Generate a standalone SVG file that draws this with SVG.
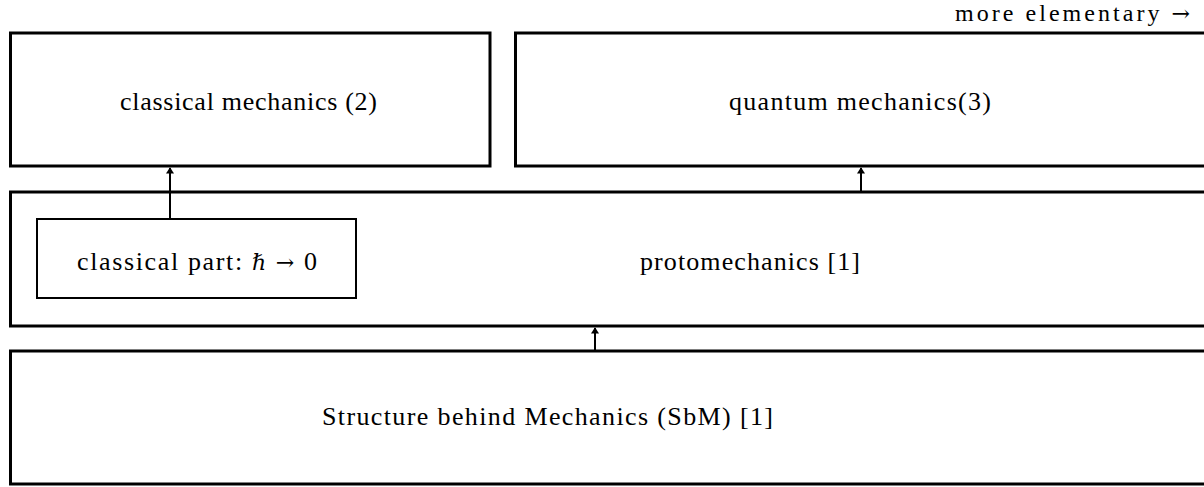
<svg xmlns="http://www.w3.org/2000/svg" width="1204" height="487" viewBox="0 0 1204 487">
<style>
.box{fill:none;stroke:#000;stroke-width:3}
.inner{fill:none;stroke:#000;stroke-width:2}
.t{font-family:"Liberation Serif","Times New Roman",serif;font-size:26px;fill:#000;text-anchor:middle}
.m{font-family:"DejaVu Serif",serif;font-size:22px}
.c{stroke:#000;stroke-width:2;fill:none;marker-end:url(#ah)}
</style>
<defs>
<marker id="ah" viewBox="0 0 8 10" refX="7" refY="5" markerWidth="4.5" markerHeight="4" orient="auto" markerUnits="strokeWidth">
<path d="M0,0 L8,5 L0,10 Z" fill="#000"/>
</marker>
</defs>
<rect width="1204" height="487" fill="#fff"/>
<text class="t" x="1190" y="21" style="text-anchor:end;font-size:24px" textLength="235" lengthAdjust="spacing">more elementary <tspan class="m">→</tspan></text>
<g id="classical">
<rect class="box" x="10.5" y="33" width="479.5" height="133"/>
<text class="t" x="248.5" y="110" textLength="257" lengthAdjust="spacing">classical mechanics (2)</text>
</g>
<g id="quantum">
<rect class="box" x="515.5" y="33" width="700" height="133"/>
<text class="t" x="860" y="110" textLength="262" lengthAdjust="spacing">quantum mechanics(3)</text>
</g>
<g id="proto">
<rect class="box" x="10.5" y="192" width="1205" height="134"/>
<text class="t" x="750" y="270" textLength="220" lengthAdjust="spacing">protomechanics [1]</text>
</g>
<g id="classicalpart">
<rect class="inner" x="37" y="219" width="319" height="79"/>
<text class="t" x="197" y="270" textLength="240" lengthAdjust="spacing">classical part: <tspan class="m" font-style="italic">ℏ</tspan> <tspan class="m">→</tspan> 0</text>
</g>
<g id="sbm">
<rect class="box" x="10.5" y="351" width="1205" height="133"/>
<text class="t" x="547.5" y="425" textLength="451" lengthAdjust="spacing">Structure behind Mechanics (SbM) [1]</text>
</g>
<g id="connectors">
<line class="c" x1="170" y1="219" x2="170" y2="168"/>
<line class="c" x1="861" y1="192" x2="861" y2="168"/>
<line class="c" x1="595" y1="351" x2="595" y2="328"/>
</g>
</svg>
